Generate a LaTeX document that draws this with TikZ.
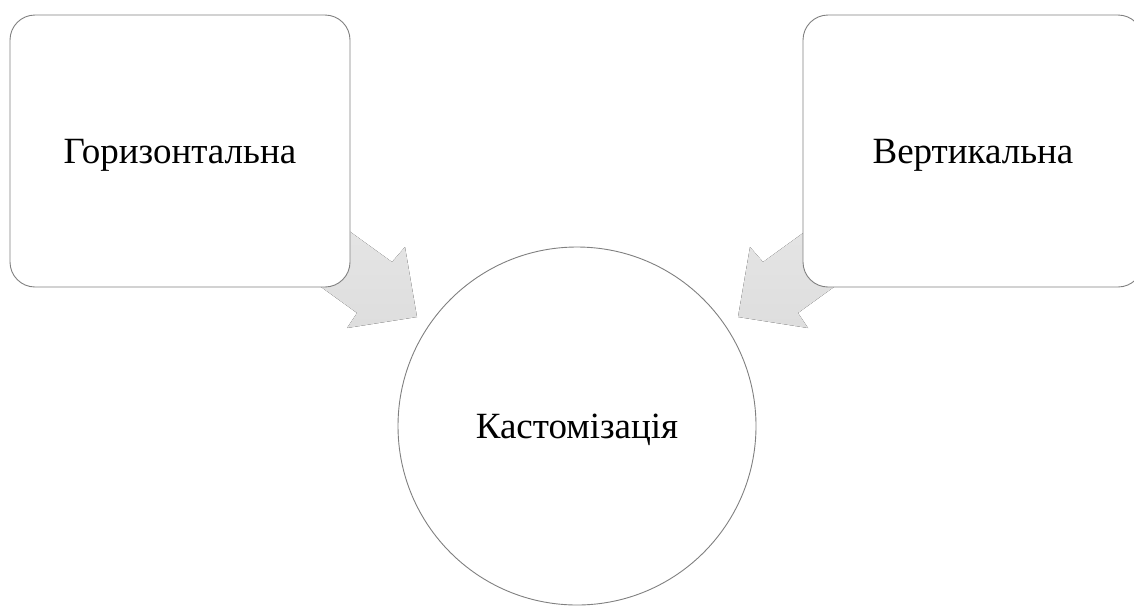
\documentclass[tikz,border=0pt]{standalone}
\usepackage{fontspec}
\setmainfont{Liberation Serif}
\begin{document}
\begin{tikzpicture}[x=1pt,y=-1pt,
  box/.style={draw=black!50,line width=0.9pt,fill=white,rounded corners=25pt,
    minimum width=340pt,minimum height=272pt,text depth=0pt,
    font=\fontsize{37}{40}\selectfont},
  hub/.style={draw=black!50,line width=0.9pt,fill=white,circle,
    minimum size=358pt,text depth=0pt,font=\fontsize{37}{40}\selectfont},
  flow/.style={top color=black!10,bottom color=black!13,draw=none}]
\useasboundingbox (0,0) rectangle (1134,606);
\clip (0,0) rectangle (1134,606);
% block arrows, tails hidden behind the boxes
\fill [flow] (327,215) -- (392,262) -- (405,247) -- (417,317) -- (347,328) -- (357,313) -- (292,266) -- cycle;
\fill [flow] (828,215) -- (763,262) -- (750,247) -- (738,317) -- (808,328) -- (798,313) -- (863,266) -- cycle;
\node [box] (horiz) at (180,151) {Горизонтальна};
\node [box] (vert) at (973,151) {Вертикальна};
\node [hub] (custom) at (577,426) {Кастомізація};
\end{tikzpicture}
\end{document}
